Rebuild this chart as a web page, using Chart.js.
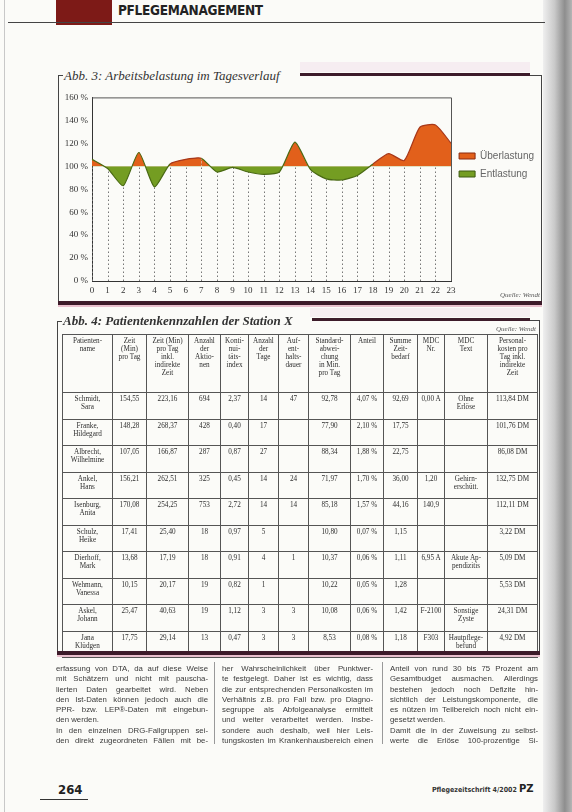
<!DOCTYPE html>
<html lang="de">
<head>
<meta charset="utf-8">
<title>Abb. 3: Arbeitsbelastung im Tagesverlauf</title>
<script src="https://cdn.jsdelivr.net/npm/chart.js@4.4.1/dist/chart.umd.min.js"></script>
<style>
  html, body { margin: 0; padding: 0; }
  body { width: 572px; height: 812px; position: relative; overflow: hidden; background: #fbfbf8; font-family: "Liberation Sans", Arial, sans-serif; color: #2a2a2a; }
  .abs { position: absolute; }
  .shade { left: 543px; top: 0; width: 29px; height: 812px; background: linear-gradient(to right, #efefef, #c9c9c9 40%, #8e8e8e 75%, #b5b5b5); }
  .edge { left: 4px; top: 0; width: 1px; height: 812px; background: #c8c8c8; }
  .headblock { left: 56px; top: 0; width: 56px; height: 25px; background: #7d1a17; }
  .headtxt { left: 118px; top: 2px; font: bold 13.5px "DejaVu Sans Condensed", "DejaVu Sans", sans-serif; letter-spacing: -0.3px; color: #222; }
  .headline { left: 8px; top: 22px; width: 537px; height: 1px; background: #444; }
  .figtitle { font: italic 13px "Liberation Serif", serif; color: #333; white-space: nowrap; }
  .bar { height: 3px; background: #3d1b2a; }
  .glow { background: #f6edf1; }
  .vline { width: 1px; background: #444; }
  .hline { height: 1px; background: #444; }
  .bottombar { height: 4px; background: #3d1b2a; border-bottom: 2px solid #e9bfcd; }
  .quelle { font: italic 7px "Liberation Serif", serif; color: #555; }
  table.kz { position: absolute; left: 62px; top: 334px; border-collapse: collapse; table-layout: fixed; font: 7.2px/8px "Liberation Serif", serif; color: #2e2e2e; }
  table.kz td, table.kz th { border: 1px solid #555; padding: 2px 0 0 0; text-align: center; vertical-align: top; overflow: hidden; white-space: nowrap; }
  table.kz th { font-weight: normal; height: 55px; }
  table.kz tr.r td { height: 23.5px; }
  .col { font-size: 7.8px; line-height: 10.3px; color: #3a3a3a; }
  .col div { text-align: justify; text-align-last: justify; white-space: nowrap; overflow: hidden; }
  .col div.e { text-align-last: left; }
  .pagenum { left: 58px; top: 782px; font: bold 13px "DejaVu Sans Condensed", sans-serif; color: #222; }
  .foot { left: 432px; top: 786px; font: bold 7px "DejaVu Sans Condensed", sans-serif; color: #333; }
  .logo { left: 519px; top: 783px; font: bold 10px "DejaVu Sans", sans-serif; color: #222; }
</style>
</head>
<body>
<div class="abs shade"></div>
<div class="abs edge"></div>
<div class="abs headblock"></div>
<div class="abs headtxt">PFLEGEMANAGEMENT</div>
<div class="abs headline"></div>

<!-- Abb. 3 -->
<div class="abs glow" style="left:300px;top:62px;width:230px;height:10px;"></div>
<div class="abs hline" style="left:58px;top:75px;width:5px;"></div>
<div class="abs figtitle" style="left:64px;top:68px;">Abb. 3: Arbeitsbelastung im Tagesverlauf</div>
<div class="abs bar" style="left:300px;top:73px;width:230px;"></div>
<div class="abs hline" style="left:530px;top:75px;width:11px;"></div>
<div class="abs vline" style="left:58px;top:75px;height:228px;"></div>
<div class="abs vline" style="left:541px;top:75px;height:228px;"></div>
<div class="abs" style="left:60px;top:88px;width:484px;height:212px;">
  <canvas id="chart" width="484" height="212"></canvas>
</div>
<div class="abs quelle" style="left:500px;top:291px;">Quelle: Wendt</div>
<div class="abs bottombar" style="left:58px;top:301px;width:484px;"></div>

<!-- Abb. 4 -->
<div class="abs glow" style="left:310px;top:308px;width:220px;height:9px;"></div>
<div class="abs hline" style="left:57px;top:321px;width:5px;"></div>
<div class="abs figtitle" style="left:63px;top:313px;font-weight:bold;">Abb. 4: Patientenkennzahlen der Station X</div>
<div class="abs bar" style="left:312px;top:318px;width:218px;"></div>
<div class="abs hline" style="left:530px;top:320px;width:9px;"></div>
<div class="abs vline" style="left:57px;top:321px;height:331px;"></div>
<div class="abs vline" style="left:539px;top:320px;height:332px;"></div>
<div class="abs quelle" style="left:496px;top:325px;">Quelle: Wendt</div>
<table class="kz" id="kz"></table>
<div class="abs bottombar" style="left:57px;top:651px;width:483px;"></div>

<!-- Fließtext -->
<div class="abs col" style="left:56px;top:664px;width:152px;">
  <div>erfassung von DTA, da auf diese Weise</div>
  <div>mit Schätzern und nicht mit pauscha-</div>
  <div>lierten Daten gearbeitet wird. Neben</div>
  <div>den Ist-Daten können jedoch auch die</div>
  <div>PPR- bzw. LEP®-Daten mit eingebun-</div>
  <div class="e">den werden.</div>
  <div>In den einzelnen DRG-Fallgruppen sei-</div>
  <div>den direkt zugeordneten Fällen mit be-</div>
</div>
<div class="abs vline" style="left:214px;top:662px;height:82px;background:#999;"></div>
<div class="abs col" style="left:222px;top:664px;width:151px;">
  <div>her Wahrscheinlichkeit über Punktwer-</div>
  <div>te festgelegt. Daher ist es wichtig, dass</div>
  <div>die zur entsprechenden Personalkosten im</div>
  <div>Verhältnis z.B. pro Fall bzw. pro Diagno-</div>
  <div>segruppe als Abfolgeanalyse ermittelt</div>
  <div>und weiter verarbeitet werden. Insbe-</div>
  <div>sondere auch deshalb, weil hier Leis-</div>
  <div>tungskosten im Krankenhausbereich einen</div>
</div>
<div class="abs vline" style="left:382px;top:662px;height:82px;background:#999;"></div>
<div class="abs col" style="left:390px;top:664px;width:148px;">
  <div>Anteil von rund 30 bis 75 Prozent am</div>
  <div>Gesamtbudget ausmachen. Allerdings</div>
  <div>bestehen jedoch noch Defizite hin-</div>
  <div>sichtlich der Leistungskomponente, die</div>
  <div>es nützen im Teilbereich noch nicht ein-</div>
  <div class="e">gesetzt werden.</div>
  <div>Damit die in der Zuweisung zu selbst-</div>
  <div>werte die Erlöse 100-prozentige Si-</div>
</div>

<div class="abs pagenum">264</div>
<div class="abs hline" style="left:40px;top:799px;width:48px;background:#333;"></div>
<div class="abs foot">Pflegezeitschrift 4/2002</div>
<div class="abs logo">PZ</div>

<script>
// Abb. 3 – Werte je Stunde (in % der Soll-Belastung)
const hours = ["0", "1", "2", "3", "4", "5", "6", "7", "8", "9", "10", "11",
  "12", "13", "14", "15", "16", "17", "18", "19", "20", "21", "22", "23"];
const belastung = [106, 98, 83, 112, 82, 102, 106, 107, 95, 99, 95, 93,
  95, 121, 97, 89, 88, 92, 102, 111, 105, 134, 136, 120];
const yTicks = [0, 20, 40, 60, 80, 100, 120, 140, 160];
const baseline = 100;
const legendLabels = ["Überlastung", "Entlastung"];

// Abb. 4 – Tabelle
const tableHead = ["Patienten-<br>name", "Zeit<br>(Min)<br>pro Tag", "Zeit (Min)<br>pro Tag<br>inkl.<br>indirekte<br>Zeit",
  "Anzahl<br>der<br>Aktio-<br>nen", "Konti-<br>nui-<br>täts-<br>index", "Anzahl<br>der<br>Tage", "Auf-<br>ent-<br>halts-<br>dauer",
  "Standard-<br>abwei-<br>chung<br>in Min.<br>pro Tag", "Anteil", "Summe<br>Zeit-<br>bedarf", "MDC<br>Nr.", "MDC<br>Text",
  "Personal-<br>kosten pro<br>Tag inkl.<br>indirekte<br>Zeit"];
const tableRows = [
  ["Schmidt,<br>Sara", "154,55", "223,16", "694", "2,37", "14", "47", "92,78", "4,07 %", "92,69", "0,00 A", "Ohne<br>Erlöse", "113,84 DM"],
  ["Franke,<br>Hildegard", "148,28", "268,37", "428", "0,40", "17", "", "77,90", "2,10 %", "17,75", "", "", "101,76 DM"],
  ["Albrecht,<br>Wilhelmine", "107,05", "166,87", "287", "0,87", "27", "", "88,34", "1,88 %", "22,75", "", "", "86,08 DM"],
  ["Ankel,<br>Hans", "156,21", "262,51", "325", "0,45", "14", "24", "71,97", "1,70 %", "36,00", "1,20", "Gehirn-<br>erschütt.", "132,75 DM"],
  ["Isenburg,<br>Anita", "170,08", "254,25", "753", "2,72", "14", "14", "85,18", "1,57 %", "44,16", "140,9", "", "112,11 DM"],
  ["Schulz,<br>Heike", "17,41", "25,40", "18", "0,97", "5", "", "10,80", "0,07 %", "1,15", "", "", "3,22 DM"],
  ["Dierhoff,<br>Mark", "13,68", "17,19", "18", "0,91", "4", "1", "10,37", "0,06 %", "1,11", "6,95 A", "Akute Ap-<br>pendizitis", "5,09 DM"],
  ["Wehmann,<br>Vanessa", "10,15", "20,17", "19", "0,82", "1", "", "10,22", "0,05 %", "1,28", "", "", "5,53 DM"],
  ["Askel,<br>Johann", "25,47", "40,63", "19", "1,12", "3", "3", "10,08", "0,06 %", "1,42", "F-2100", "Sonstige<br>Zyste", "24,31 DM"],
  ["Jana<br>Klüdgen", "17,75", "29,14", "13", "0,47", "3", "3", "8,53", "0,08 %", "1,18", "F303", "Hautpflege-<br>befund", "4,92 DM"],
];
const colWidths = [50, 34, 42, 32, 28, 30, 30, 42, 33, 34, 27, 43, 50];

function buildTable() {
  const table = document.getElementById("kz");
  const cg = document.createElement("colgroup");
  colWidths.forEach(w => {
    const c = document.createElement("col");
    c.style.width = w + "px";
    cg.appendChild(c);
  });
  table.appendChild(cg);
  const head = table.insertRow();
  tableHead.forEach(h => {
    const th = document.createElement("th");
    th.innerHTML = h;
    head.appendChild(th);
  });
  tableRows.forEach(r => {
    const row = table.insertRow();
    row.className = "r";
    r.forEach(v => {
      const td = row.insertCell();
      td.innerHTML = v;
    });
  });
}
buildTable();

// gestrichelte Lote von der x-Achse bis zur Kurve + Rahmen um die Zeichenfläche
const dropLines = {
  id: "dropLines",
  beforeDatasetsDraw(chart) {
    const { ctx, scales: { x, y } } = chart;
    ctx.save();
    ctx.strokeStyle = "#777";
    ctx.lineWidth = 1;
    ctx.setLineDash([1.5, 2.5]);
    belastung.forEach((v, i) => {
      const px = Math.round(x.getPixelForValue(i)) + 0.5;
      ctx.beginPath();
      ctx.moveTo(px, y.getPixelForValue(0));
      ctx.lineTo(px, y.getPixelForValue(v));
      ctx.stroke();
    });
    ctx.restore();
  },
  afterDraw(chart) {
    const { ctx, chartArea } = chart;
    ctx.save();
    ctx.strokeStyle = "#555";
    ctx.lineWidth = 1;
    ctx.beginPath();
    ctx.moveTo(chartArea.left, chartArea.top + 0.5);
    ctx.lineTo(Math.round(chartArea.right) + 0.5, chartArea.top + 0.5);
    ctx.lineTo(Math.round(chartArea.right) + 0.5, chartArea.bottom);
    ctx.stroke();
    ctx.restore();
  }
};

const orange = "#e2601b";
const green = "#749d22";

const ctx = document.getElementById("chart").getContext("2d");
const myChart = new Chart(ctx, {
  type: "line",
  data: {
    labels: hours,
    datasets: [{
      label: "Arbeitsbelastung",
      data: belastung,
      fill: { target: { value: baseline }, above: orange, below: green },
      borderWidth: 1.2,
      segment: {
        borderColor: c => (c.p0.parsed.y >= baseline && c.p1.parsed.y >= baseline) ? "#a8381a" : "#4a6a14",
      },
      pointRadius: 0,
      tension: 0.2,
    }],
  },
  options: {
    responsive: false,
    animation: false,
    devicePixelRatio: 1,
    layout: { padding: { top: 8, right: 0, bottom: 0, left: 0 } },
    scales: {
      x: {
        offset: false,
        grid: { display: false, drawTicks: false },
        border: { color: "#333", width: 1 },
        ticks: { color: "#333", font: { family: "Liberation Serif", size: 9 }, padding: 4, maxRotation: 0, autoSkip: false },
        afterFit: s => { s.height = 19; },
      },
      y: {
        min: yTicks[0],
        max: yTicks[yTicks.length - 1],
        grid: { display: false, drawTicks: false },
        border: { color: "#333", width: 1 },
        afterBuildTicks: s => { s.ticks = yTicks.map(v => ({ value: v })); },
        ticks: { color: "#333", font: { family: "Liberation Serif", size: 9 }, padding: 4, callback: v => v + " %" },
        afterFit: s => { s.width = 32; },
      },
    },
    plugins: {
      tooltip: { enabled: false },
      legend: {
        position: "right",
        align: "start",
        title: { display: true, text: " ", font: { size: 10 }, padding: { top: 35, bottom: 0 } },
        labels: {
          boxWidth: 16,
          boxHeight: 6,
          padding: 8,
          color: "#333",
          font: { family: "Liberation Sans", size: 10 },
          generateLabels: () => legendLabels.map((t, i) => ({
            text: t,
            fillStyle: i === 0 ? orange : green,
            strokeStyle: i === 0 ? "#8a2a10" : "#3d5a10",
            lineWidth: 1,
            hidden: false,
            datasetIndex: 0,
          })),
        },
      },
    },
  },
  plugins: [dropLines],
});
</script>
</body>
</html>
